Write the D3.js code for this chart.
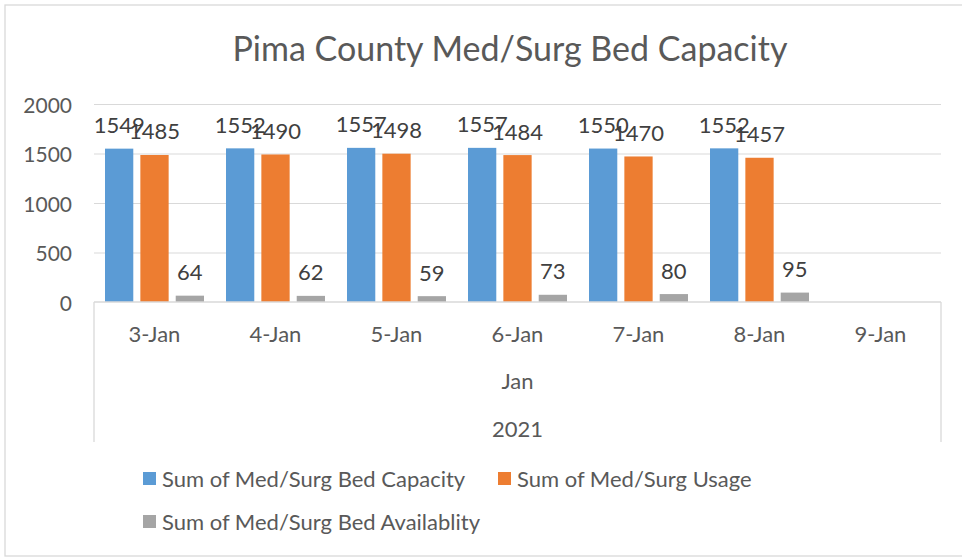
<!DOCTYPE html>
<html>
<head>
<meta charset="utf-8">
<script src="https://cdn.jsdelivr.net/npm/d3@7"></script>
<style>
  body { margin: 0; background: #fff; }
  text { font-family: Lato, "Open Sans", sans-serif; fill: #595959; }
  .grid line { stroke: #d9d9d9; }
  .grid path { display: none; }
</style>
</head>
<body>
<div id="chart"></div>
<script>
const days = ['3-Jan', '4-Jan', '5-Jan', '6-Jan', '7-Jan', '8-Jan', '9-Jan']
const seriesNames = ['Sum of Med/Surg Bed Capacity', 'Sum of Med/Surg Usage', 'Sum of Med/Surg Bed Availablity']
const capacity = [1549, 1552, 1557, 1557, 1550, 1552, null]
const usage = [1485, 1490, 1498, 1484, 1470, 1457, null]
const availability = [64, 62, 59, 73, 80, 95, null]
const colors = ['#5b9bd5', '#ed7d31', '#a5a5a5']
const yTicks = [0, 500, 1000, 1500, 2000]

const W = 962, H = 558
const plot = {left: 94, right: 941, top: 104, bottom: 302}

const svg = d3.select('#chart').append('svg')
  .attr('width', W).attr('height', H)

svg.append('rect')
  .attr('x', 5).attr('y', 5)
  .attr('width', 965).attr('height', 551)
  .attr('fill', 'none').attr('stroke', '#d9d9d9').attr('stroke-width', 1.3)

svg.append('text')
  .attr('x', 510).attr('y', 47)
  .attr('text-anchor', 'middle').attr('dominant-baseline', 'central')
  .style('font-size', '34px')
  .text('Pima County Med/Surg Bed Capacity')

const x0 = d3.scaleBand().domain(days).range([plot.left, plot.right])
const x1 = d3.scaleBand().domain(d3.range(3))
  .range([11, x0.bandwidth() - 11]).paddingInner(0.2)
const y = d3.scaleLinear().domain([0, 2000]).range([plot.bottom, plot.top])

// gridlines
svg.append('g').attr('class', 'grid')
  .attr('transform', `translate(${plot.left},0)`)
  .call(d3.axisLeft(y).tickValues(yTicks.slice(1)).tickSize(-(plot.right - plot.left)).tickFormat(''))

// y tick labels
svg.append('g').selectAll('text')
  .data(yTicks).join('text')
  .attr('x', 72).attr('y', d => y(d))
  .attr('text-anchor', 'end').attr('dominant-baseline', 'central')
  .style('font-size', '21px')
  .text(d => d)

const series = [capacity, usage, availability]
const groups = svg.append('g').selectAll('g')
  .data(days).join('g')
  .attr('transform', d => `translate(${x0(d)},0)`)

groups.each(function(day, i) {
  const g = d3.select(this)
  series.forEach((vals, s) => {
    const v = vals[i]
    if (v == null) return
    g.append('rect')
      .attr('x', x1(s)).attr('width', x1.bandwidth())
      .attr('y', y(v)).attr('height', y(0) - y(v))
      .attr('fill', colors[s])
    g.append('text')
      .attr('x', x1(s) + x1.bandwidth() / 2)
      .attr('y', y(v) - 24)
      .attr('text-anchor', 'middle').attr('dominant-baseline', 'central')
      .style('font-size', '22px').style('fill', '#404040')
      .text(v)
  })
})

// category axis box
const axisG = svg.append('g').attr('stroke', '#d9d9d9').attr('stroke-width', 1.3)
axisG.append('line').attr('x1', plot.left).attr('x2', plot.right).attr('y1', plot.bottom).attr('y2', plot.bottom)
axisG.append('line').attr('x1', plot.left).attr('x2', plot.left).attr('y1', plot.bottom).attr('y2', 442)
axisG.append('line').attr('x1', plot.right).attr('x2', plot.right).attr('y1', plot.bottom).attr('y2', 442)

svg.append('g').selectAll('text')
  .data(days).join('text')
  .attr('x', d => x0(d) + x0.bandwidth() / 2).attr('y', 333)
  .attr('text-anchor', 'middle').attr('dominant-baseline', 'central')
  .style('font-size', '22px')
  .text(d => d)

const mid = (plot.left + plot.right) / 2
svg.append('text').attr('x', mid).attr('y', 380)
  .attr('text-anchor', 'middle').attr('dominant-baseline', 'central')
  .style('font-size', '22px').text('Jan')
svg.append('text').attr('x', mid).attr('y', 428)
  .attr('text-anchor', 'middle').attr('dominant-baseline', 'central')
  .style('font-size', '22px').text('2021')

// legend
const legendPos = [[143, 478], [498, 478], [143, 521]]
const legend = svg.append('g').selectAll('g')
  .data(seriesNames).join('g')
  .attr('transform', (d, i) => `translate(${legendPos[i][0]},${legendPos[i][1]})`)
legend.append('rect')
  .attr('x', 0).attr('y', -6).attr('width', 13).attr('height', 13)
  .attr('fill', (d, i) => colors[i])
legend.append('text')
  .attr('x', 19).attr('y', 0)
  .attr('dominant-baseline', 'central')
  .style('font-size', '22px')
  .text(d => d)
</script>
</body>
</html>
